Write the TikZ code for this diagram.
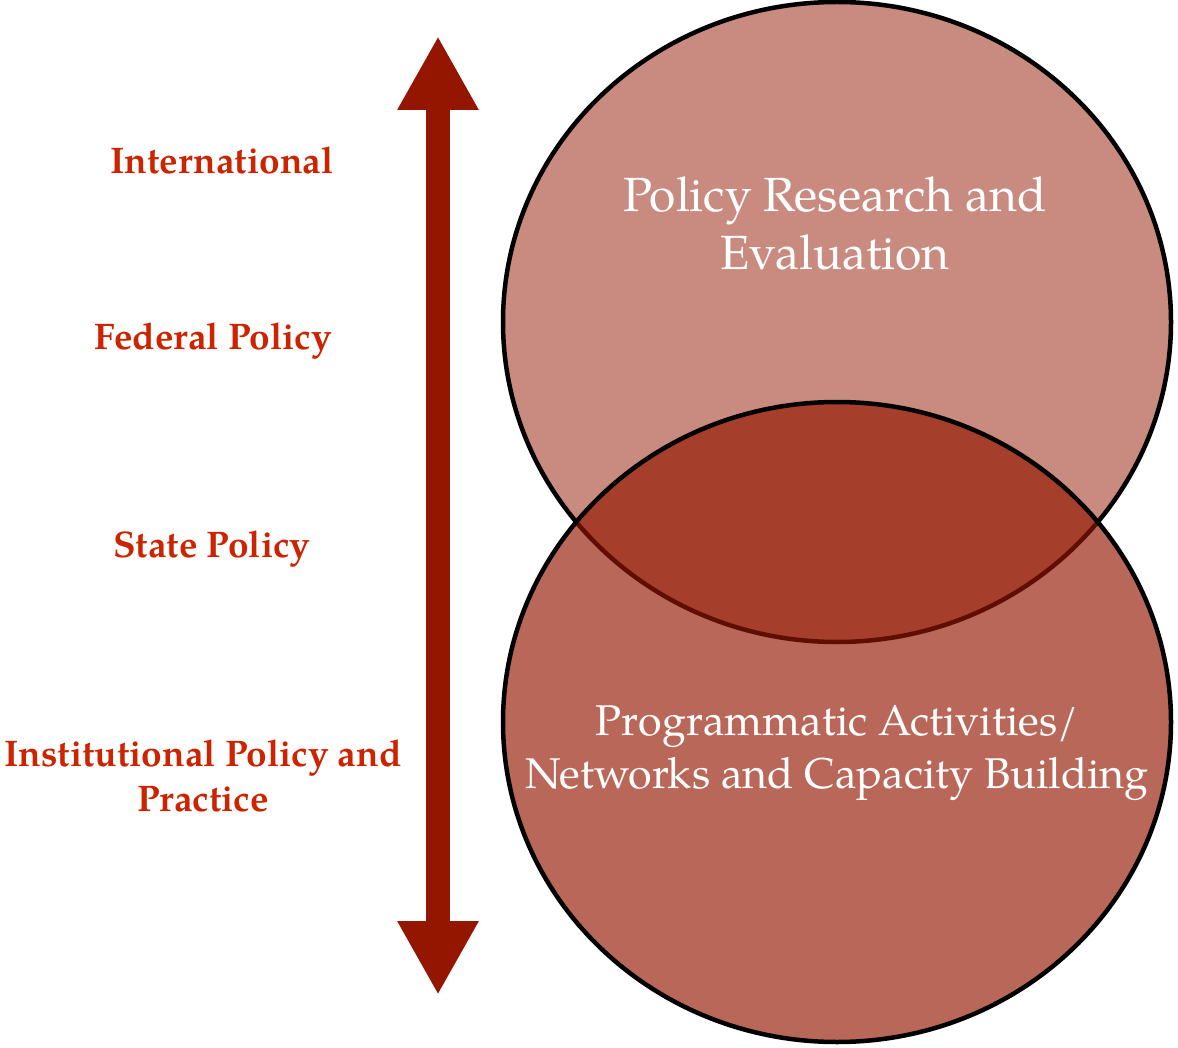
\documentclass[tikz,border=0pt]{standalone}
\usepackage{fontspec}
\setmainfont{TeX Gyre Pagella}
\usetikzlibrary{arrows.meta,shapes.geometric}
\definecolor{brick}{RGB}{148,22,0}
\definecolor{levelred}{RGB}{204,36,0}
\tikzset{
  level/.style={text=levelred, font=\bfseries\fontsize{37}{45}\selectfont, align=center, anchor=base},
  sphere/.style={ellipse, draw=black, line width=4.5pt, fill=brick, minimum width=668pt, minimum height=640pt, inner sep=0pt, outer sep=0pt},
  sphtext/.style={text=white, font=\fontsize{48}{58}\selectfont, align=center, anchor=base},
  axis/.style={brick, line width=24pt, {Triangle[width=76pt,length=74pt]}-{Triangle[width=76pt,length=74pt]}}
}
\begin{document}
\begin{tikzpicture}[x=1pt,y=-1pt]
\useasboundingbox (0,0) rectangle (1178,1048);

\node[sphere, fill opacity=0.5] (research) at (837,322) {}; % upper circle
\node[sphere, fill opacity=0.65] (programs) at (837,722) {}; % lower circle

% base = last line
\node[sphtext] (researchtxt) at (835,270) {Policy Research and\\Evaluation};
\node[sphtext, font=\fontsize{43}{53}\selectfont] (programstxt) at (837,788) {Programmatic Activities/\\Networks and Capacity Building};

\coordinate (up) at (438,36);
\coordinate (down) at (438,995);
\draw[axis] (down) -- (up); % scale arrow

\node[level] (intl) at (222,174) {International};
\node[level] (federal) at (213,350) {Federal Policy};
\node[level] (state) at (212,557) {State Policy};
\node[level] (inst) at (203,811) {Institutional Policy and\\Practice};
\end{tikzpicture}
\end{document}
